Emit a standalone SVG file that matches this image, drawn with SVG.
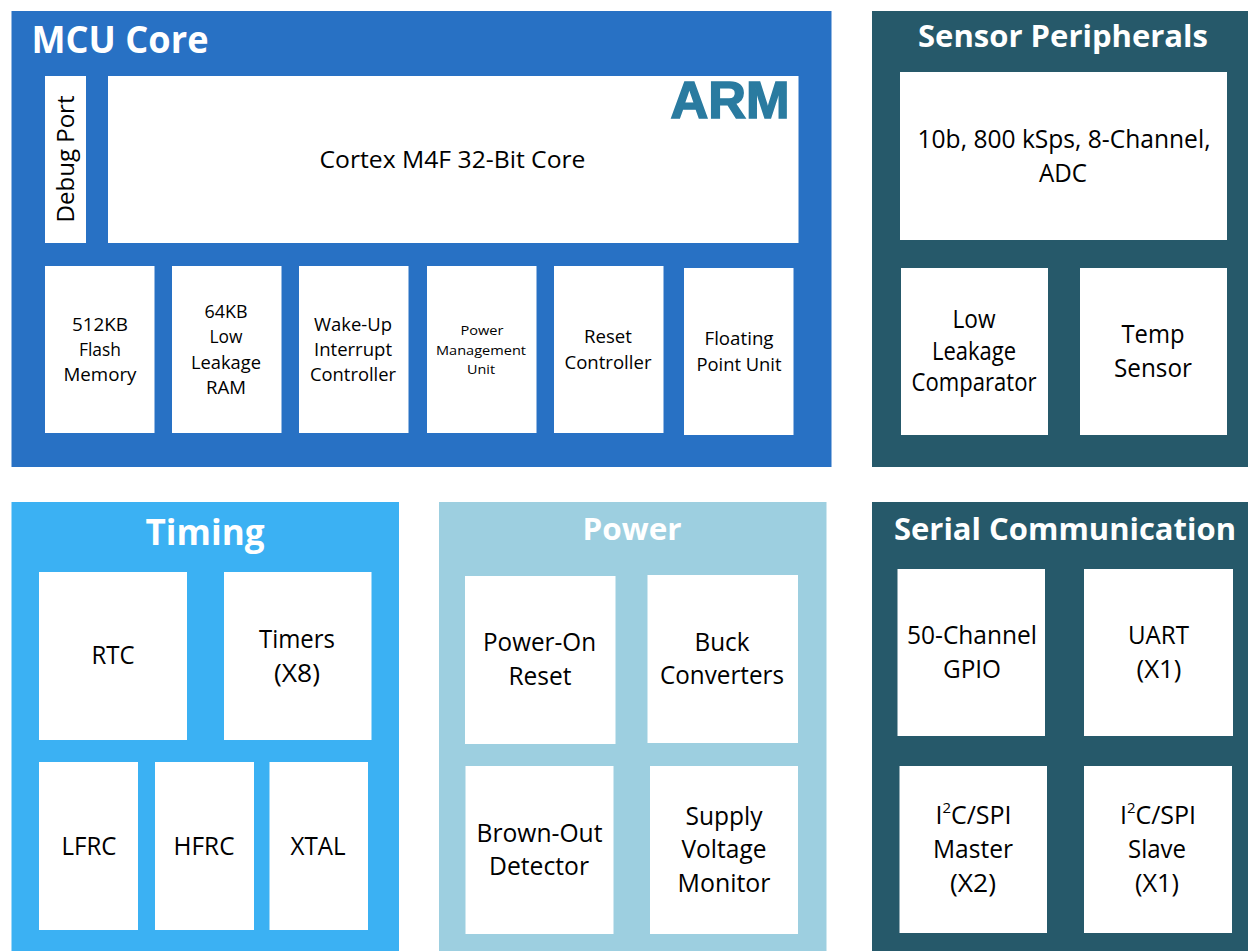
<svg xmlns="http://www.w3.org/2000/svg" width="1248" height="951" viewBox="0 0 1248 951">
<style>
text{font-family:"Open Sans","Noto Sans","Liberation Sans",sans-serif;fill:#000;text-anchor:middle}
.h{fill:#fff;font-weight:700}
.b{fill:#fff}
.t25{font-size:25px}
.t23{font-size:23px}
.t19{font-size:17.5px}
.t13{font-size:13px}
.sup{font-size:15px}
</style>
<rect width="1248" height="951" fill="#fff"/>
<g id="mcu-core"><rect x="11.5" y="11" width="820" height="456" fill="#2871c4"/>
<text class="h" x="120" y="53" font-size="37" textLength="177" lengthAdjust="spacingAndGlyphs">MCU Core</text></g>
<g id="debug-port"><rect class="b" x="45" y="76" width="41" height="167"/>
<text transform="translate(73.5,159) rotate(-90)" font-size="24" textLength="127" lengthAdjust="spacingAndGlyphs">Debug Port</text></g>
<g id="cortex"><rect class="b" x="108" y="76" width="690.5" height="167"/>
<text class="t23" x="452.5" y="168" textLength="266" lengthAdjust="spacingAndGlyphs">Cortex M4F 32-Bit Core</text>
<text x="730" y="118" style="font-family:'Liberation Sans',sans-serif;font-weight:700;fill:#2a7ba0;stroke:#2a7ba0;stroke-width:1.6px;font-size:52px" textLength="119" lengthAdjust="spacingAndGlyphs">ARM</text></g>
<g id="flash"><rect class="b" x="45" y="266" width="109.5" height="167"/>
<text class="t19" x="100" y="331" textLength="56" lengthAdjust="spacingAndGlyphs">512KB</text><text class="t19" x="100" y="356" textLength="42" lengthAdjust="spacingAndGlyphs">Flash</text><text class="t19" x="100" y="381" textLength="73" lengthAdjust="spacingAndGlyphs">Memory</text></g>
<g id="ram"><rect class="b" x="172" y="266" width="109.5" height="167"/>
<text class="t19" x="226" y="318" textLength="43" lengthAdjust="spacingAndGlyphs">64KB</text><text class="t19" x="226" y="343" textLength="33" lengthAdjust="spacingAndGlyphs">Low</text><text class="t19" x="226" y="369" textLength="70" lengthAdjust="spacingAndGlyphs">Leakage</text><text class="t19" x="226" y="394" textLength="40" lengthAdjust="spacingAndGlyphs">RAM</text></g>
<g id="wakeup"><rect class="b" x="299" y="266" width="109.5" height="167"/>
<text class="t19" x="353" y="331" textLength="78" lengthAdjust="spacingAndGlyphs">Wake-Up</text><text class="t19" x="353" y="356" textLength="78" lengthAdjust="spacingAndGlyphs">Interrupt</text><text class="t19" x="353" y="381" textLength="86" lengthAdjust="spacingAndGlyphs">Controller</text></g>
<g id="pmu"><rect class="b" x="427" y="266" width="109.5" height="167"/>
<text class="t13" x="482" y="335" textLength="43" lengthAdjust="spacingAndGlyphs">Power</text><text class="t13" x="481" y="355" textLength="90" lengthAdjust="spacingAndGlyphs">Management</text><text class="t13" x="481" y="374" textLength="28" lengthAdjust="spacingAndGlyphs">Unit</text></g>
<g id="reset"><rect class="b" x="554" y="266" width="109.5" height="167"/>
<text class="t19" x="608" y="343" textLength="48" lengthAdjust="spacingAndGlyphs">Reset</text><text class="t19" x="608" y="369" textLength="87" lengthAdjust="spacingAndGlyphs">Controller</text></g>
<g id="fpu"><rect class="b" x="684" y="268" width="109.5" height="167"/>
<text class="t19" x="739" y="345" textLength="69" lengthAdjust="spacingAndGlyphs">Floating</text><text class="t19" x="739" y="371" textLength="85" lengthAdjust="spacingAndGlyphs">Point Unit</text></g>

<g id="sensor"><rect x="872" y="11" width="376" height="456" fill="#26596a"/>
<text class="h" x="1063" y="47" font-size="31" textLength="290" lengthAdjust="spacingAndGlyphs">Sensor Peripherals</text></g>
<g id="adc"><rect class="b" x="900" y="72" width="327" height="168"/>
<text class="t25" x="1064" y="148" textLength="293" lengthAdjust="spacingAndGlyphs">10b, 800 kSps, 8-Channel,</text><text class="t25" x="1063" y="182" textLength="48" lengthAdjust="spacingAndGlyphs">ADC</text></g>
<g id="comparator"><rect class="b" x="901" y="268" width="147" height="167"/>
<text class="t25" x="974" y="328" textLength="43" lengthAdjust="spacingAndGlyphs">Low</text><text class="t25" x="974" y="360" textLength="84" lengthAdjust="spacingAndGlyphs">Leakage</text><text class="t25" x="974" y="391" textLength="125" lengthAdjust="spacingAndGlyphs">Comparator</text></g>
<g id="temp"><rect class="b" x="1080" y="268" width="147" height="167"/>
<text class="t25" x="1153" y="343" textLength="63" lengthAdjust="spacingAndGlyphs">Temp</text><text class="t25" x="1153" y="377" textLength="78" lengthAdjust="spacingAndGlyphs">Sensor</text></g>

<g id="timing"><rect x="11.5" y="502" width="387.5" height="449" fill="#3bb1f3"/>
<text class="h" x="205" y="545" font-size="36" textLength="119" lengthAdjust="spacingAndGlyphs">Timing</text></g>
<g id="rtc"><rect class="b" x="39" y="572" width="148" height="168"/><text class="t25" x="113" y="664" textLength="43" lengthAdjust="spacingAndGlyphs">RTC</text></g>
<g id="timers"><rect class="b" x="224" y="572" width="147.5" height="168"/><text class="t25" x="297" y="648" textLength="76" lengthAdjust="spacingAndGlyphs">Timers</text><text class="t25" x="297" y="682" textLength="46" lengthAdjust="spacingAndGlyphs">(X8)</text></g>
<g id="lfrc"><rect class="b" x="39" y="762" width="99" height="168"/><text class="t25" x="89" y="855" textLength="55" lengthAdjust="spacingAndGlyphs">LFRC</text></g>
<g id="hfrc"><rect class="b" x="155" y="762" width="99" height="168"/><text class="t25" x="204" y="855" textLength="61" lengthAdjust="spacingAndGlyphs">HFRC</text></g>
<g id="xtal"><rect class="b" x="269.5" y="762" width="98.5" height="168"/><text class="t25" x="318" y="855" textLength="55" lengthAdjust="spacingAndGlyphs">XTAL</text></g>

<g id="power"><rect x="439" y="502" width="387.5" height="449" fill="#9dcfe0"/>
<text class="h" x="632" y="540" font-size="31" textLength="99" lengthAdjust="spacingAndGlyphs">Power</text></g>
<g id="por"><rect class="b" x="465" y="576" width="150.5" height="168"/><text class="t25" x="539.5" y="651" textLength="113" lengthAdjust="spacingAndGlyphs">Power-On</text><text class="t25" x="540" y="685" textLength="63" lengthAdjust="spacingAndGlyphs">Reset</text></g>
<g id="buck"><rect class="b" x="647.5" y="575" width="150.5" height="168"/><text class="t25" x="722" y="651" textLength="55" lengthAdjust="spacingAndGlyphs">Buck</text><text class="t25" x="722" y="684" textLength="124" lengthAdjust="spacingAndGlyphs">Converters</text></g>
<g id="bod"><rect class="b" x="465.5" y="766" width="148" height="168"/><text class="t25" x="539.5" y="842" textLength="126" lengthAdjust="spacingAndGlyphs">Brown-Out</text><text class="t25" x="539" y="875" textLength="100" lengthAdjust="spacingAndGlyphs">Detector</text></g>
<g id="svm"><rect class="b" x="650" y="766" width="148" height="168"/><text class="t25" x="724" y="825" textLength="77" lengthAdjust="spacingAndGlyphs">Supply</text><text class="t25" x="724" y="858" textLength="85" lengthAdjust="spacingAndGlyphs">Voltage</text><text class="t25" x="724" y="892" textLength="93" lengthAdjust="spacingAndGlyphs">Monitor</text></g>

<g id="serial"><rect x="872" y="502" width="376" height="449" fill="#26596a"/>
<text class="h" x="1065" y="540" font-size="31" textLength="342" lengthAdjust="spacingAndGlyphs">Serial Communication</text></g>
<g id="gpio"><rect class="b" x="897.5" y="569" width="147.5" height="167"/><text class="t25" x="972" y="644" textLength="130" lengthAdjust="spacingAndGlyphs">50-Channel</text><text class="t25" x="972" y="678" textLength="58" lengthAdjust="spacingAndGlyphs">GPIO</text></g>
<g id="uart"><rect class="b" x="1084" y="569" width="149" height="167"/><text class="t25" x="1158.5" y="644" textLength="61" lengthAdjust="spacingAndGlyphs">UART</text><text class="t25" x="1159" y="678" textLength="45" lengthAdjust="spacingAndGlyphs">(X1)</text></g>
<g id="i2c-master"><rect class="b" x="899.5" y="766" width="147.5" height="167"/><text class="t25" x="973.5" y="824">I<tspan dy="-11" class="sup">2</tspan><tspan dy="11">C/SPI</tspan></text><text class="t25" x="973" y="858" textLength="80" lengthAdjust="spacingAndGlyphs">Master</text><text class="t25" x="973" y="892" textLength="46" lengthAdjust="spacingAndGlyphs">(X2)</text></g>
<g id="i2c-slave"><rect class="b" x="1084" y="766" width="148" height="167"/><text class="t25" x="1158" y="824">I<tspan dy="-11" class="sup">2</tspan><tspan dy="11">C/SPI</tspan></text><text class="t25" x="1157" y="858" textLength="58" lengthAdjust="spacingAndGlyphs">Slave</text><text class="t25" x="1157" y="892" textLength="44" lengthAdjust="spacingAndGlyphs">(X1)</text></g>
<g id="connectors"></g>
</svg>
